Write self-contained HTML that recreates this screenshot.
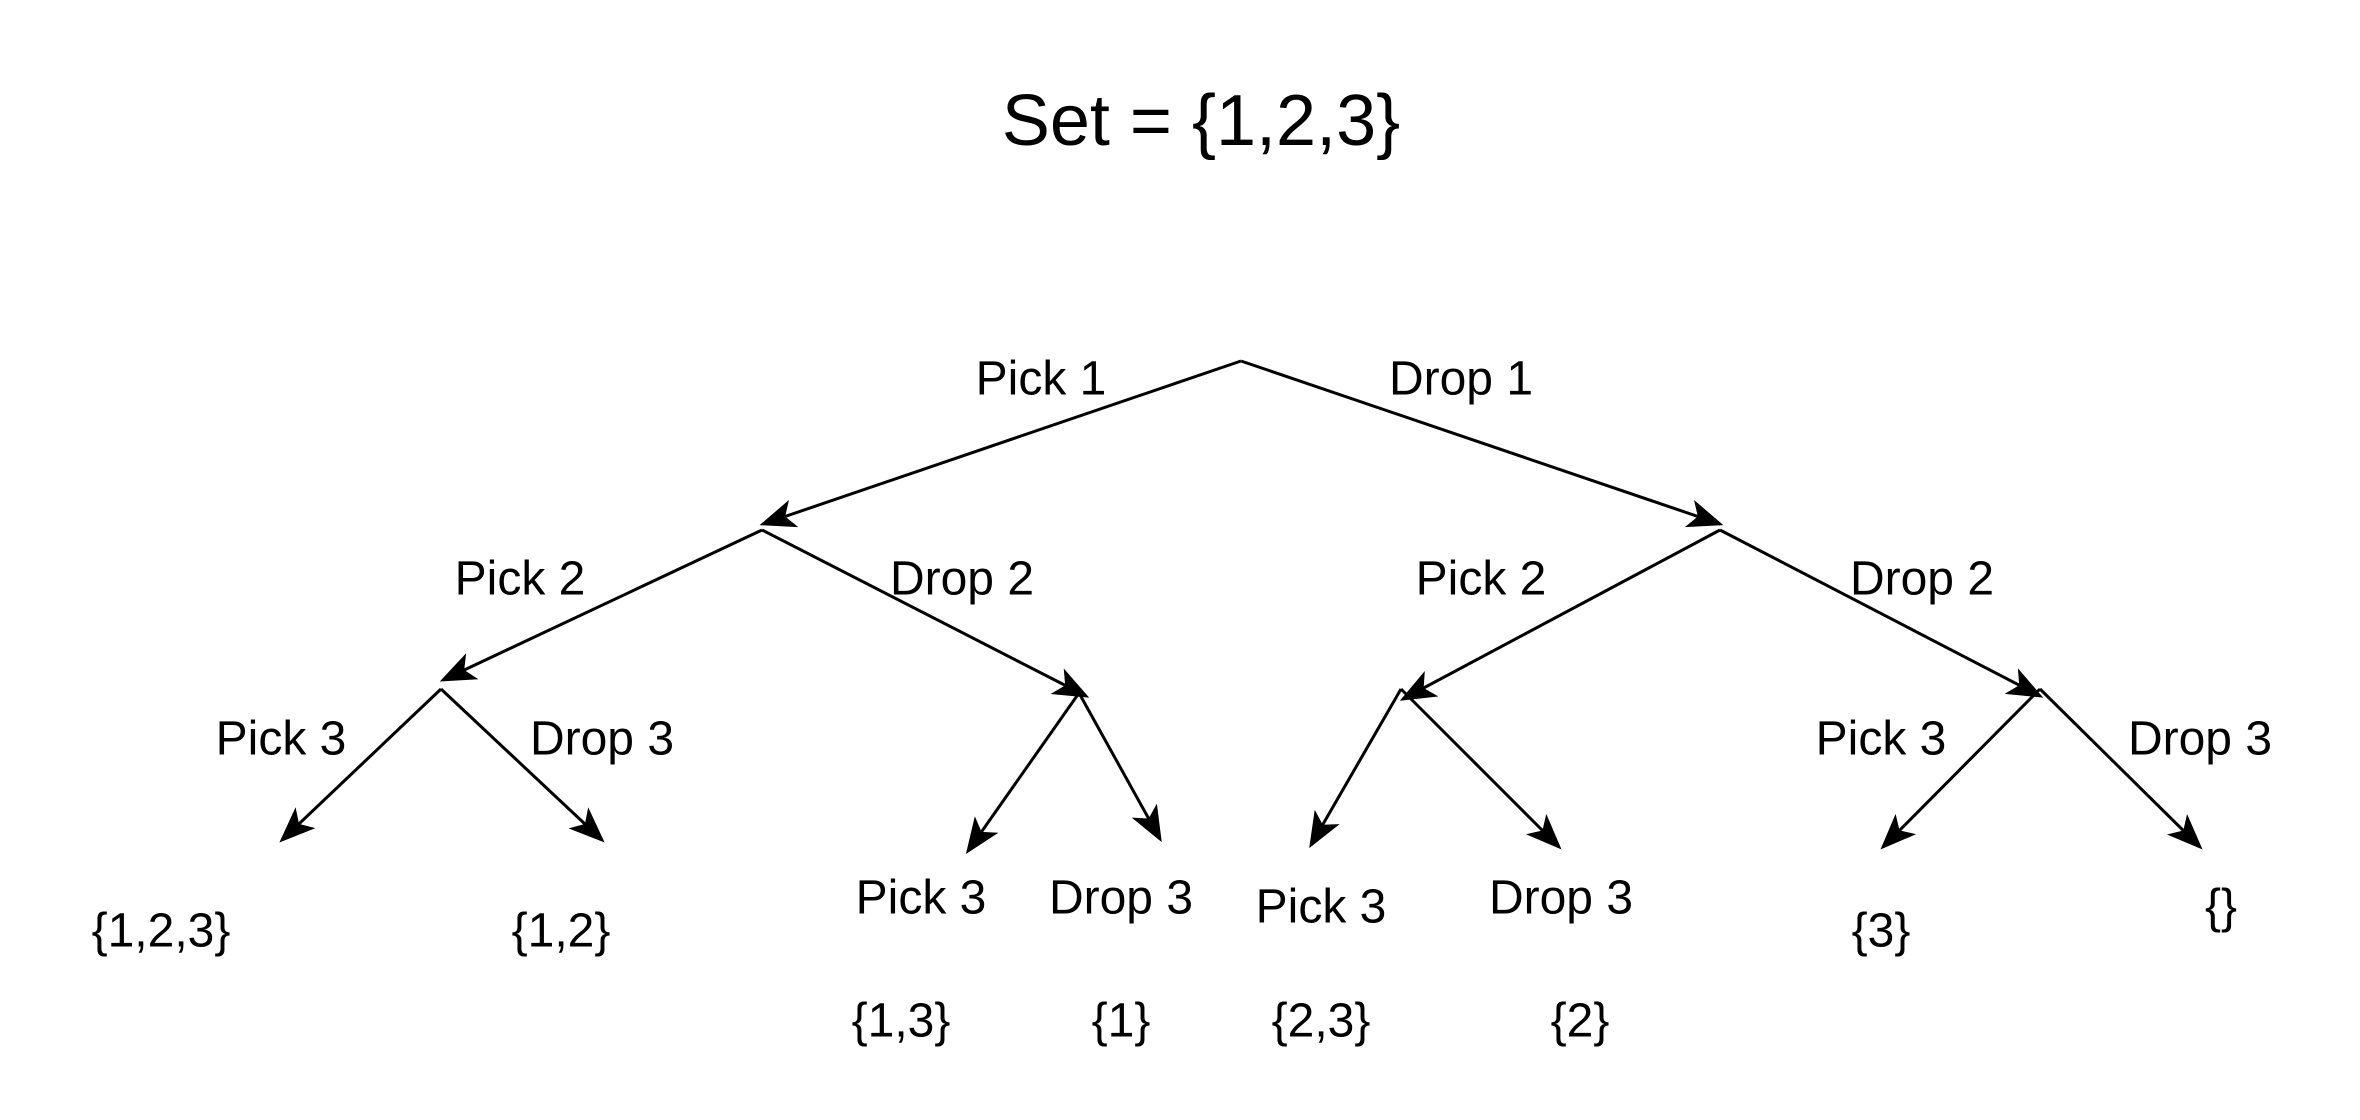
<!DOCTYPE html>
<html><head><meta charset="utf-8"><style>
html,body{margin:0;padding:0;background:#fff;}
svg{display:block;}
text{font-family:"Liberation Sans",Arial,sans-serif;fill:#000;text-anchor:middle;dominant-baseline:central;}
</style></head><body>
<svg width="2360" height="1120" viewBox="0 0 2360 1120" xmlns="http://www.w3.org/2000/svg">
<defs>
<marker id="a" viewBox="0 0 20 16" refX="18" refY="8" markerWidth="12" markerHeight="9.6" orient="auto" markerUnits="strokeWidth">
<path d="M0,0 L20,8 L0,16 L5,8 Z" fill="#000"/>
</marker>
</defs>
<g stroke="#000" stroke-width="3" fill="none" marker-end="url(#a)">
<line x1="1241" y1="361" x2="763" y2="524"/>
<line x1="1241" y1="361" x2="1720" y2="524"/>
<line x1="762" y1="530" x2="443" y2="680"/>
<line x1="762" y1="530" x2="1086" y2="696"/>
<line x1="1720" y1="530" x2="1403" y2="699"/>
<line x1="1720" y1="530" x2="2040" y2="696"/>
<line x1="441" y1="689" x2="282" y2="840"/>
<line x1="441" y1="689" x2="602" y2="840"/>
<line x1="1079" y1="693" x2="968" y2="851"/>
<line x1="1079" y1="693" x2="1160" y2="839"/>
<line x1="1401" y1="689" x2="1311" y2="845"/>
<line x1="1401" y1="689" x2="1559" y2="847"/>
<line x1="2040" y1="689" x2="1883" y2="847"/>
<line x1="2040" y1="689" x2="2200" y2="847"/>
</g>
<text x="1201" y="121" font-size="72">Set = {1,2,3}</text>
<g font-size="48">
<text x="1041" y="379">Pick 1</text>
<text x="1461" y="379">Drop 1</text>
<text x="520" y="579">Pick 2</text>
<text x="962" y="579">Drop 2</text>
<text x="1481" y="579">Pick 2</text>
<text x="1922" y="579">Drop 2</text>
<text x="281" y="739">Pick 3</text>
<text x="602" y="739">Drop 3</text>
<text x="921" y="898">Pick 3</text>
<text x="1121" y="898">Drop 3</text>
<text x="1321" y="907">Pick 3</text>
<text x="1561" y="898">Drop 3</text>
<text x="1881" y="739">Pick 3</text>
<text x="2200" y="739">Drop 3</text>
<text x="161" y="931">{1,2,3}</text>
<text x="561" y="931">{1,2}</text>
<text x="901" y="1021">{1,3}</text>
<text x="1121" y="1021">{1}</text>
<text x="1321" y="1021">{2,3}</text>
<text x="1580" y="1021">{2}</text>
<text x="1881" y="931">{3}</text>
<text x="2221" y="907">{}</text>
</g>
</svg>
</body></html>
